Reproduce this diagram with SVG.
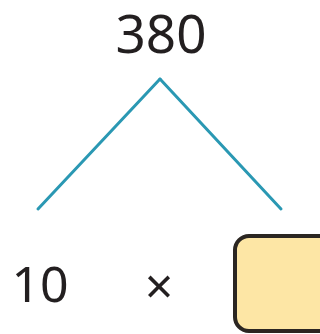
<svg xmlns="http://www.w3.org/2000/svg" width="320" height="334" viewBox="0 0 320 334">
<style>
.t{font-family:"Noto Sans","Open Sans",sans-serif;fill:#231f20}
.c{stroke:#2a98b3;stroke-width:3;fill:none;stroke-linecap:round}
</style>
<rect width="320" height="334" fill="#fff"/>
<g id="top"><text class="t" x="161" y="53" font-size="53" text-anchor="middle">380</text></g>
<g id="connectors">
<line class="c" x1="160" y1="79" x2="38" y2="209"/>
<line class="c" x1="160" y1="79" x2="281" y2="209"/>
</g>
<g id="left"><text class="t" x="40" y="302" font-size="50" text-anchor="middle">10</text></g>
<g id="times"><text class="t" x="159" y="304" font-size="50" text-anchor="middle">×</text></g>
<g id="box"><rect x="235" y="236" width="100" height="95" rx="14" fill="#fde6a5" stroke="#2b2622" stroke-width="4"/></g>
</svg>
